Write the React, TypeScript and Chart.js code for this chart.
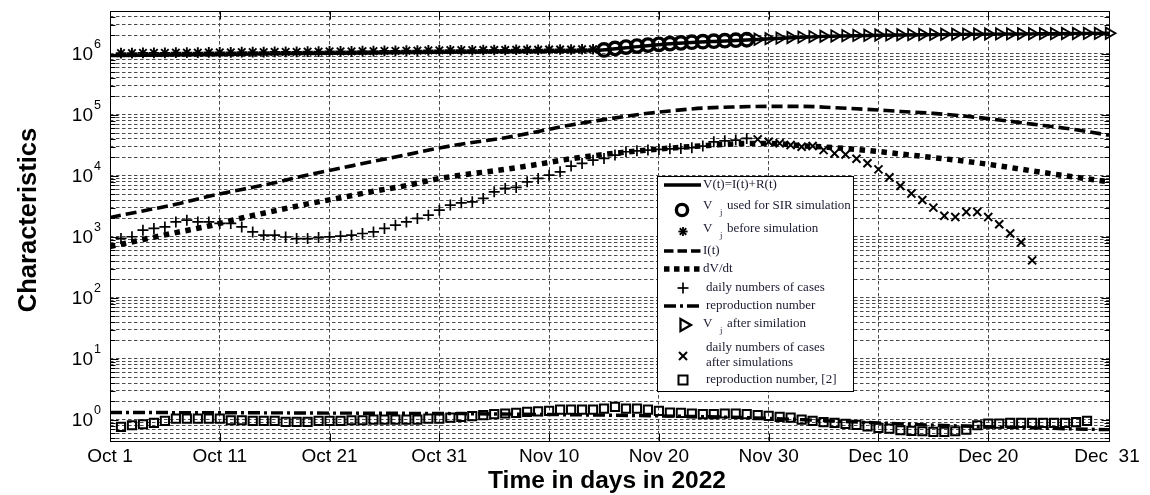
import React, { useEffect, useRef } from 'react';
import { Chart, registerables } from 'chart.js';

Chart.register(...registerables);

// ---- axes -------------------------------------------------------------
// x: days counted from Oct 1, 2022
const xTickDays = [0, 10, 20, 30, 40, 50, 60, 70, 80, 91];
const xTickLabels = ['Oct 1', 'Oct 11', 'Oct 21', 'Oct 31', 'Nov 10', 'Nov 20', 'Nov 30', 'Dec 10', 'Dec 20', 'Dec  31'];
const yDecadeExponents = [0, 1, 2, 3, 4, 5, 6];
const yMin = 0.45;
const yMax = 5e6;
const xTitle = 'Time in days in 2022';
const yTitle = 'Characteristics';

// ---- series -----------------------------------------------------------
// V(t) = I(t) + R(t), solid curve
const vDays = [0, 5, 10, 15, 20, 25, 30, 35, 40, 44, 47, 50, 53, 56, 59, 62, 65, 70, 75, 80, 85, 91];
const vValues = [930000, 950000, 970000, 990000, 1010000, 1030000, 1050000, 1070000, 1090000, 1120000, 1250000,
  1400000, 1520000, 1610000, 1710000, 1820000, 1920000, 2000000, 2050000, 2090000, 2120000, 2160000];

// V_j before simulation (asterisks), first day 1
const vBeforeStart = 1;
const vBeforeValues = [
  1.02e6, 1.02e6, 1.03e6, 1.03e6, 1.03e6, 1.04e6, 1.04e6, 1.04e6, 1.05e6, 1.05e6,
  1.05e6, 1.06e6, 1.06e6, 1.06e6, 1.07e6, 1.07e6, 1.07e6, 1.08e6, 1.08e6, 1.09e6,
  1.09e6, 1.09e6, 1.10e6, 1.10e6, 1.11e6, 1.11e6, 1.12e6, 1.12e6, 1.13e6, 1.13e6,
  1.14e6, 1.14e6, 1.14e6, 1.15e6, 1.15e6, 1.15e6, 1.16e6, 1.16e6, 1.16e6, 1.17e6,
  1.17e6, 1.17e6, 1.18e6, 1.18e6,
];

// V_j used for SIR simulation (circles), first day 45
const vUsedStart = 45;
const vUsedValues = [1.15e6, 1.22e6, 1.28e6, 1.33e6, 1.38e6, 1.42e6, 1.46e6, 1.50e6, 1.54e6, 1.57e6, 1.60e6, 1.63e6, 1.66e6, 1.69e6];

// V_j after simulation (triangles), first day 59
const vAfterStart = 59;
const vAfterValues = [
  1.72e6, 1.76e6, 1.80e6, 1.84e6, 1.87e6, 1.90e6, 1.93e6, 1.95e6, 1.97e6, 1.99e6,
  2.00e6, 2.02e6, 2.03e6, 2.04e6, 2.05e6, 2.06e6, 2.07e6, 2.08e6, 2.08e6, 2.09e6,
  2.10e6, 2.10e6, 2.11e6, 2.11e6, 2.12e6, 2.12e6, 2.13e6, 2.13e6, 2.14e6, 2.14e6,
  2.15e6, 2.15e6, 2.16e6,
];

// I(t), dashed curve
const iDays = [0, 3, 6, 9, 12, 15, 18, 21, 24, 27, 30, 33, 36, 39, 42, 45, 48, 51, 54, 57, 60, 63, 66, 69, 72, 75, 78, 81, 84, 87, 89, 91];
const iValues = [2070, 2650, 3400, 4600, 5950, 7650, 10300, 13300, 17200, 22000, 28500, 35000, 42000, 53000, 68000, 83000,
  100000, 115000, 128000, 134000, 137000, 137000, 130000, 122000, 113000, 105000, 94000, 82000, 70000, 60000, 53000, 46000];

// dV/dt, dotted curve
const dvDays = [0, 3, 6, 9, 12, 15, 18, 21, 24, 27, 30, 33, 36, 39, 42, 45, 48, 51, 54, 57, 60, 63, 66, 69, 72, 75, 78, 81, 84, 87, 91];
const dvValues = [690, 900, 1170, 1500, 2030, 2660, 3450, 4350, 5550, 6900, 9000, 10800, 12700, 15400, 19000, 22300,
  25400, 28300, 31000, 33300, 33800, 31000, 28800, 26000, 22700, 19800, 17200, 14500, 12000, 10000, 7950];

// daily numbers of cases (plus), first day 1
const casesStart = 1;
const casesValues = [
  940, 1000, 1280, 1370, 1450, 1750, 1870, 1750, 1750, 1650,
  1650, 1450, 1200, 1060, 1060, 990, 935, 935, 970, 995,
  1020, 1060, 1130, 1200, 1370, 1550, 1750, 2000, 2260, 2730,
  3300, 3600, 3730, 4250, 5450, 6200, 6430, 7950, 9030, 10200,
  11600, 14400, 15900, 18000, 19200, 21800, 24700, 25600, 26300, 27000,
  27600, 28000, 28700, 30600, 35900, 37300, 38300, 40800,
];

// daily numbers of cases after simulations (x), first day 59
const casesAfterStart = 59;
const casesAfterValues = [
  39400, 35900, 33900, 31800, 29800, 30600, 26300, 23200, 22300, 19000,
  16000, 12700, 9400, 6800, 5100, 4000, 3000, 2200, 2100, 2550,
  2550, 2100, 1600, 1130, 810, 410,
];

// reproduction number, dash-dot curve
const rDays = [0, 10, 20, 30, 40, 50, 60, 65, 70, 75, 80, 85, 91];
const rValues = [1.32, 1.31, 1.29, 1.27, 1.22, 1.16, 1.06, 0.97, 0.89, 0.82, 0.77, 0.73, 0.69];

// reproduction number, [2] (squares), first day 1
const r2Start = 1;
const r2Values = [
  0.765, 0.815, 0.847, 0.891, 0.96, 1.05, 1.05, 1.05, 1.05, 1.05,
  0.985, 0.985, 0.96, 0.96, 0.96, 0.924, 0.924, 0.924, 0.96, 0.96,
  0.96, 0.985, 0.985, 1.01, 1.01, 1.01, 1.01, 1.01, 1.05, 1.05,
  1.09, 1.12, 1.15, 1.19, 1.24, 1.27, 1.30, 1.35, 1.38, 1.40,
  1.47, 1.47, 1.47, 1.47, 1.53, 1.63, 1.53, 1.53, 1.47, 1.40,
  1.32, 1.30, 1.27, 1.24, 1.24, 1.27, 1.27, 1.24, 1.19, 1.16,
  1.12, 1.09, 1.01, 0.96, 0.92, 0.89, 0.86, 0.825, 0.78, 0.74,
  0.72, 0.675, 0.658, 0.65, 0.634, 0.634, 0.65, 0.69, 0.815, 0.87,
  0.87, 0.89, 0.89, 0.89, 0.89, 0.89, 0.89, 0.92, 0.96,
];

// legend texts ("V_j " prefix marks a subscripted V)
const legendLabels = [
  'V(t)=I(t)+R(t)',
  'V_j used for SIR simulation',
  'V_j before simulation',
  'I(t)',
  'dV/dt',
  'daily numbers of cases',
  'reproduction number',
  'V_j after similation',
  'daily numbers of cases|after simulations',
  'reproduction number, [2]',
];

// ---- styles -----------------------------------------------------------
const INK = '#000';
const GRID = '#4a4a4a';
const LEGEND_TEXT = '#1a1a30';
const SANS = '"Liberation Sans", Arial, sans-serif';
const SERIF = '"Liberation Serif", "Times New Roman", serif';

const DASH_I = [11, 5];
const DASH_DV = [5.5, 5.5];
const DASH_R = [12, 4, 3, 4];

function curve(label: string, days: number[], values: number[], dash: number[], width: number, order: number) {
  return {
    label,
    data: days.map((d, i) => ({ x: d, y: values[i] })),
    borderColor: INK,
    borderWidth: width,
    borderDash: dash,
    borderCapStyle: 'butt',
    pointRadius: 0,
    cubicInterpolationMode: 'monotone',
    fill: false,
    order,
  };
}

function markers(label: string, start: number, values: number[], style: string, radius: number, width: number, order: number, rotation = 0) {
  return {
    label,
    data: values.map((v, i) => ({ x: start + i, y: v })),
    showLine: false,
    pointStyle: style,
    pointRadius: radius,
    pointHoverRadius: radius,
    pointBorderWidth: width,
    pointBorderColor: INK,
    pointBackgroundColor: 'rgba(0,0,0,0)',
    pointRotation: rotation,
    clip: false,
    order,
  };
}

function isDecade(v: number) {
  const l = Math.log10(v);
  return Math.abs(l - Math.round(l)) < 1e-9;
}

function seg(ctx: CanvasRenderingContext2D, x1: number, y1: number, x2: number, y2: number) {
  ctx.beginPath();
  ctx.moveTo(x1, y1);
  ctx.lineTo(x2, y2);
  ctx.stroke();
}

function legendSymbol(ctx: CanvasRenderingContext2D, idx: number, cy: number) {
  const x1 = 664;
  const x2 = 701;
  const cx = 683;
  ctx.save();
  ctx.strokeStyle = INK;
  ctx.setLineDash([]);
  ctx.lineCap = 'butt';
  switch (idx) {
    case 0:
      ctx.lineWidth = 3.4;
      seg(ctx, x1, cy, x2, cy);
      break;
    case 1:
      ctx.lineWidth = 3.4;
      ctx.beginPath();
      ctx.arc(cx - 1, cy, 5.6, 0, Math.PI * 2);
      ctx.stroke();
      break;
    case 2: {
      ctx.lineWidth = 1.8;
      const r = 4.6;
      for (let k = 0; k < 4; k++) {
        const a = (k * Math.PI) / 4;
        seg(ctx, cx - Math.cos(a) * r, cy - Math.sin(a) * r, cx + Math.cos(a) * r, cy + Math.sin(a) * r);
      }
      break;
    }
    case 3:
      ctx.lineWidth = 3.4;
      ctx.setLineDash([9.5, 4]);
      seg(ctx, x1, cy, x2, cy);
      break;
    case 4:
      ctx.lineWidth = 5.5;
      ctx.setLineDash([5.5, 4.5]);
      seg(ctx, x1, cy, x2 + 2, cy);
      break;
    case 5:
      ctx.lineWidth = 1.7;
      seg(ctx, cx - 5.5, cy, cx + 5.5, cy);
      seg(ctx, cx, cy - 5.5, cx, cy + 5.5);
      break;
    case 6:
      ctx.lineWidth = 3.4;
      ctx.setLineDash([12, 4, 3, 4]);
      seg(ctx, x1, cy, x2, cy);
      break;
    case 7: {
      ctx.lineWidth = 2.3;
      const r = 7;
      const x = cx + 1;
      ctx.beginPath();
      ctx.moveTo(x + r, cy);
      ctx.lineTo(x - r / 2, cy - r * 0.866);
      ctx.lineTo(x - r / 2, cy + r * 0.866);
      ctx.closePath();
      ctx.stroke();
      break;
    }
    case 8:
      ctx.lineWidth = 2;
      seg(ctx, cx - 4, cy - 4, cx + 4, cy + 4);
      seg(ctx, cx - 4, cy + 4, cx + 4, cy - 4);
      break;
    case 9:
      ctx.lineWidth = 2;
      ctx.strokeRect(cx - 4.5, cy - 4.5, 9, 9);
      break;
  }
  ctx.restore();
}

const legendRowY = [185, 206, 229, 251, 269, 288, 306, 324, 348, 380];
const legendMarkY = [185, 210, 231.5, 251, 269, 288, 306, 325, 356, 380];

function drawLegend(ctx: CanvasRenderingContext2D) {
  const bx = 657;
  const by = 176;
  const bw = 196;
  const bh = 215;
  ctx.save();
  ctx.setLineDash([]);
  ctx.fillStyle = '#fff';
  ctx.fillRect(bx, by, bw, bh);
  ctx.strokeStyle = INK;
  ctx.lineWidth = 1;
  ctx.strokeRect(bx + 0.5, by + 0.5, bw, bh);

  ctx.fillStyle = LEGEND_TEXT;
  ctx.textBaseline = 'middle';
  ctx.textAlign = 'left';
  const font = `13px ${SERIF}`;
  legendLabels.forEach((label, i) => {
    legendSymbol(ctx, i, legendMarkY[i]);
    const y = legendRowY[i];
    const tx = 703;
    if (label.startsWith('V_j ')) {
      ctx.font = font;
      ctx.fillText('V', tx, y);
      ctx.font = `8.5px ${SERIF}`;
      ctx.fillText('j', tx + 17, y + 7);
      ctx.font = font;
      ctx.fillText(label.slice(4), tx + 24, y);
    } else {
      ctx.font = font;
      label.split('|').forEach((line, k) => ctx.fillText(line, tx + (i >= 5 ? 3 : 0), y + k * 15));
    }
  });
  ctx.restore();
}

const decorPlugin = {
  id: 'axesDecor',
  afterDatasetsDraw(chart: any) {
    const { ctx, chartArea: a, scales } = chart;
    const xs = scales.x;
    const ys = scales.y;
    const L = Math.round(a.left) + 0.5;
    const R = Math.round(a.right) + 0.5;
    const T = Math.round(a.top) + 0.5;
    const B = Math.round(a.bottom) + 0.5;
    ctx.save();
    ctx.setLineDash([]);
    ctx.strokeStyle = INK;
    ctx.lineWidth = 1;
    ctx.strokeRect(L, T, R - L, B - T);

    // tick marks on all four sides, pointing inwards
    ys.ticks.forEach((t: any) => {
      const y = Math.round(ys.getPixelForValue(t.value)) + 0.5;
      const len = isDecade(t.value) ? 8 : 5;
      seg(ctx, L, y, L + len, y);
      seg(ctx, R, y, R - len, y);
    });
    xTickDays.forEach((d) => {
      const x = Math.round(xs.getPixelForValue(d)) + 0.5;
      seg(ctx, x, B, x, B - 8);
      seg(ctx, x, T, x, T + 8);
    });

    // y tick labels 10^k
    ctx.fillStyle = INK;
    yDecadeExponents.forEach((k) => {
      const y = ys.getPixelForValue(Math.pow(10, k));
      ctx.font = `19px ${SANS}`;
      ctx.textAlign = 'right';
      ctx.textBaseline = 'middle';
      ctx.fillText('10', 93, y + 1);
      ctx.font = `12.5px ${SANS}`;
      ctx.textAlign = 'left';
      ctx.fillText(String(k), 94, y - 9);
    });

    // x tick labels
    ctx.font = `19px ${SANS}`;
    ctx.textAlign = 'center';
    ctx.textBaseline = 'alphabetic';
    xTickDays.forEach((d, i) => {
      const x = xs.getPixelForValue(d);
      ctx.fillText(xTickLabels[i], i === xTickDays.length - 1 ? x - 2 : x, 462);
    });

    // axis titles
    ctx.font = `bold 24.5px ${SANS}`;
    ctx.textAlign = 'center';
    ctx.fillText(xTitle, 607, 488);
    ctx.save();
    ctx.translate(36, 220);
    ctx.rotate(-Math.PI / 2);
    ctx.font = `bold 25.5px ${SANS}`;
    ctx.textBaseline = 'alphabetic';
    ctx.fillText(yTitle, 0, 0);
    ctx.restore();

    drawLegend(ctx);
    ctx.restore();
  },
};

function buildLogTicks() {
  const ticks: { value: number }[] = [];
  for (let k = -1; k <= 6; k++) {
    for (let m = 1; m <= 9; m++) {
      const v = m * Math.pow(10, k);
      if (v >= 0.5 - 1e-12 && v <= yMax + 1e-6) ticks.push({ value: v });
    }
  }
  return ticks;
}

export default function App() {
  const canvasRef = useRef<HTMLCanvasElement>(null);

  useEffect(() => {
    const canvas = canvasRef.current;
    if (!canvas) return;
    const chart = new Chart(canvas, {
      type: 'line',
      data: {
        datasets: [
          curve('V(t)=I(t)+R(t)', vDays, vValues, [], 3.4, 10),
          markers('V_j used for SIR simulation', vUsedStart, vUsedValues, 'circle', 6.2, 3.4, 9),
          markers('V_j before simulation', vBeforeStart, vBeforeValues, 'star', 5.3, 1.9, 8),
          curve('I(t)', iDays, iValues, DASH_I, 3.6, 7),
          curve('dV/dt', dvDays, dvValues, DASH_DV, 5.5, 6),
          markers('daily numbers of cases', casesStart, casesValues, 'cross', 5.5, 1.7, 5),
          curve('reproduction number', rDays, rValues, DASH_R, 3.4, 4),
          markers('V_j after similation', vAfterStart, vAfterValues, 'triangle', 6.5, 1.8, 3, 90),
          markers('daily numbers of cases after simulations', casesAfterStart, casesAfterValues, 'crossRot', 5.7, 2, 2),
          markers('reproduction number, [2]', r2Start, r2Values, 'rect', 5.8, 2, 1),
        ] as any,
      },
      options: {
        animation: false,
        responsive: false,
        maintainAspectRatio: false,
        events: [],
        layout: { padding: { left: 110, top: 11, right: 41, bottom: 54 } },
        plugins: { legend: { display: false }, tooltip: { enabled: false }, title: { display: false } },
        scales: {
          x: {
            type: 'linear',
            min: 0,
            max: 91,
            afterBuildTicks: (s: any) => {
              s.ticks = xTickDays.map((v) => ({ value: v }));
            },
            afterFit: (s: any) => {
              s.height = 0;
            },
            ticks: { display: false },
            grid: { color: GRID, lineWidth: 1, drawTicks: false },
            border: { display: false, dash: [3.5, 2.5] },
          },
          y: {
            type: 'logarithmic',
            min: yMin,
            max: yMax,
            afterBuildTicks: (s: any) => {
              s.ticks = buildLogTicks();
            },
            afterFit: (s: any) => {
              s.width = 0;
            },
            ticks: { display: false },
            grid: { color: GRID, lineWidth: 1, drawTicks: false },
            border: { display: false, dash: [3.5, 2.5] },
          },
        },
      } as any,
      plugins: [decorPlugin],
    });
    return () => chart.destroy();
  }, []);

  return (
    <div style={{ position: 'fixed', left: 0, top: 0, width: 1150, height: 495, background: '#fff' }}>
      <canvas ref={canvasRef} width={1150} height={495} style={{ display: 'block' }} />
    </div>
  );
}
